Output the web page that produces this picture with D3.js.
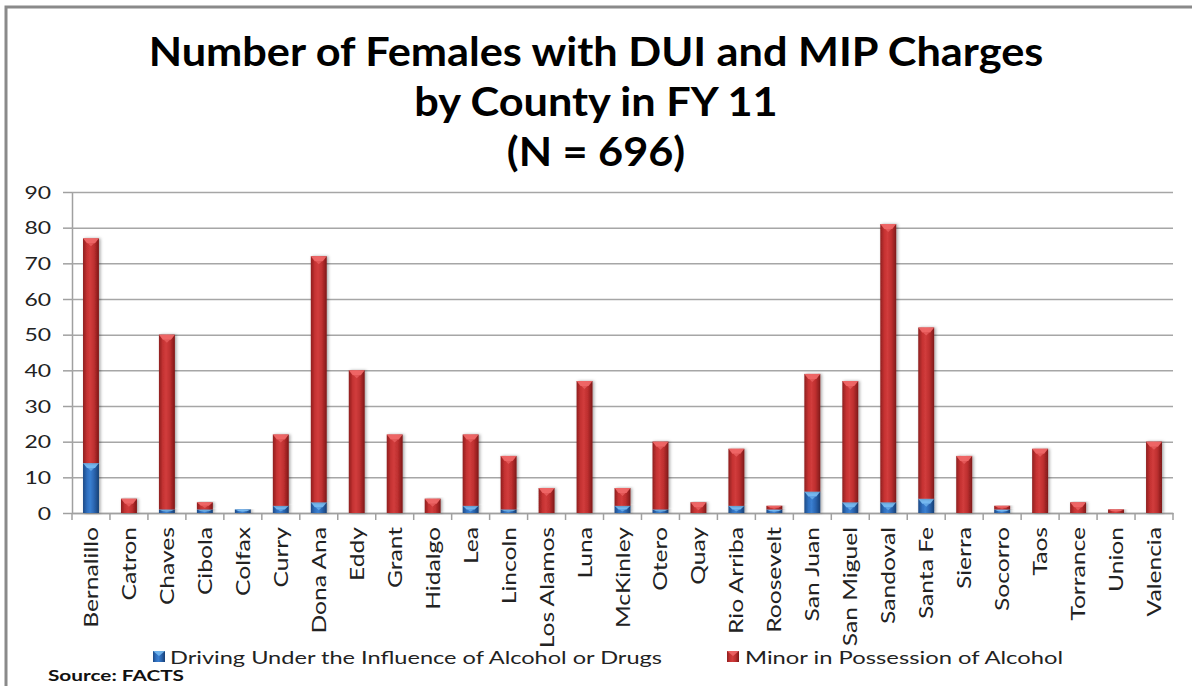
<!DOCTYPE html>
<html>
<head>
<meta charset="utf-8">
<script src="https://cdn.jsdelivr.net/npm/d3@7"></script>
<style>
  html, body { margin: 0; padding: 0; background: #fff; }
  svg { display: block; }
</style>
</head>
<body>
<svg id="chart" width="1192" height="686"></svg>
<script>
// ---- data ----
const counties = ["Bernalillo","Catron","Chaves","Cibola","Colfax","Curry","Dona Ana","Eddy","Grant","Hidalgo","Lea","Lincoln","Los Alamos","Luna","McKinley","Otero","Quay","Rio Arriba","Roosevelt","San Juan","San Miguel","Sandoval","Santa Fe","Sierra","Socorro","Taos","Torrance","Union","Valencia"];
const dui = [14,0,1,1,1,2,3,0,0,0,2,1,0,0,2,1,0,2,1,6,3,3,4,0,1,0,0,0,0];
const mip = [63,4,49,2,0,20,69,40,22,4,20,15,7,37,5,19,3,16,1,33,34,78,48,16,1,18,3,1,20];
const seriesNames = ["Driving Under the Influence of Alcohol or Drugs", "Minor in Possession of Alcohol"];
const yTicks = [0,10,20,30,40,50,60,70,80,90];
const titleLines = ["Number of Females with DUI and MIP Charges", "by County in FY 11", "(N = 696)"];
const sourceText = "Source: FACTS";

(function () {
// ---- layout ----
const svg = d3.select("#chart");
const pLeft = 72, pRight = 1173, pTop = 192, pBottom = 513;

const x = d3.scaleBand().domain(counties).range([pLeft, pRight]).paddingInner(0.58).paddingOuter(0.29);
const y = d3.scaleLinear().domain([0, 90]).range([pBottom, pTop]);

// gradients
const defs = svg.append("defs");
function grad(id, stops) {
  const g = defs.append("linearGradient").attr("id", id).attr("x1", "0%").attr("x2", "100%").attr("y1", "0%").attr("y2", "0%");
  stops.forEach(s => g.append("stop").attr("offset", s[0]).attr("stop-color", s[1]));
}
grad("gRed", [["0%", "#8e1f1f"], ["25%", "#c53232"], ["45%", "#d13c3c"], ["70%", "#bd2f2f"], ["100%", "#7e1818"]]);
grad("gBlue", [["0%", "#1d4a86"], ["25%", "#2f6fbf"], ["45%", "#3a7fd0"], ["70%", "#2a65b0"], ["100%", "#173f74"]]);
const f = defs.append("filter").attr("id", "shadow").attr("x", "-30%").attr("y", "-10%").attr("width", "160%").attr("height", "120%");
f.append("feDropShadow").attr("dx", 1.5).attr("dy", 0).attr("stdDeviation", 1.6).attr("flood-color", "#000").attr("flood-opacity", 0.35);

// frame border
svg.append("path").attr("d", "M6,686 L6,7 L1192,7").attr("fill", "none").attr("stroke", "#8a8a8a").attr("stroke-width", 3);

// title
const titleG = svg.append("g");
const titleY = [66, 116, 166];
titleLines.forEach((t, i) => {
  titleG.append("text").attr("class", "title")
    .attr("x", 0).attr("y", 0)
    .attr("transform", `translate(596,${titleY[i]})`)
    .attr("text-anchor", "middle")
    .attr("font-family", "Lato, sans-serif").attr("font-weight", "bold").attr("font-size", 40)
    .attr("fill", "#000").text(t);
});
{
  const first = titleG.select("text").node();
  const w = first.getComputedTextLength();
  const k = 895 / w;
  titleG.selectAll("text").attr("transform", (d, i) => `translate(596,${titleY[i]}) scale(${k},1)`);
}

// gridlines + y ticks
const yAxis = d3.axisLeft(y).tickValues(yTicks).tickSize(9).tickSizeOuter(0);
const yg = svg.append("g").attr("transform", `translate(${pLeft},0)`).call(yAxis);
yg.select(".domain").attr("stroke", "#a0a0a0").attr("stroke-width", 1.5);
yg.selectAll(".tick line").attr("stroke", "#a0a0a0").attr("stroke-width", 1.5);
yg.selectAll(".tick").append("line").attr("x1", 0).attr("x2", pRight - pLeft).attr("stroke", "#a6a6a6").attr("stroke-width", 1.5);
yg.selectAll(".tick text")
  .attr("font-family", "Lato, sans-serif").attr("font-size", 17).attr("fill", "#222")
  .attr("x", 0).attr("dy", "0.36em")
  .attr("transform", "translate(-21,0) scale(1.35,1)")
  .attr("text-anchor", "end");

// x axis
const xAxis = d3.axisBottom(x).tickSize(0).tickSizeOuter(0);
const xg = svg.append("g").attr("transform", `translate(0,${pBottom})`).call(xAxis);
xg.select(".domain").attr("stroke", "#a0a0a0").attr("stroke-width", 1.5);
const bounds = counties.map(c => x(c) - x.step() * x.paddingInner() / 2).concat([pRight]);
xg.selectAll(".bnd").data(bounds).enter().append("line").attr("class", "bnd")
  .attr("x1", d => d).attr("x2", d => d).attr("y1", 0).attr("y2", 7)
  .attr("stroke", "#a0a0a0").attr("stroke-width", 1.5);
xg.selectAll(".tick text")
  .attr("font-family", "Lato, sans-serif").attr("font-size", 20).attr("fill", "#222")
  .attr("text-anchor", "end")
  .attr("x", 0).attr("y", 0).attr("dy", "0.35em")
  .attr("transform", "translate(0,14) rotate(-90) scale(1.23,1)");

// bars
const data = counties.map((c, i) => ({ c, dui: dui[i], mip: mip[i] }));
const stack = d3.stack().keys(["dui", "mip"])(data);
const fills = ["url(#gBlue)", "url(#gRed)"];
const bevel = ["#7cc0f5", "#f26a6a"];
const bw = x.bandwidth();
stack.forEach((layer, li) => {
  const g = svg.append("g");
  layer.forEach(seg => {
    const v0 = seg[0], v1 = seg[1];
    if (v1 - v0 <= 0) return;
    const x0 = x(seg.data.c);
    const yt = y(v1), yb = y(v0);
    const h = yb - yt;
    g.append("rect").attr("x", x0).attr("y", yt).attr("width", bw).attr("height", h)
      .attr("fill", fills[li]).attr("filter", "url(#shadow)");
    const bh = Math.min(5, h * 0.5);
    g.append("path")
      .attr("d", `M${x0},${yt} L${x0 + bw},${yt} L${x0 + bw * 0.75},${yt + bh} L${x0 + bw * 0.25},${yt + bh} Z`)
      .attr("fill", bevel[li]).attr("opacity", 0.9);
    g.append("path")
      .attr("d", `M${x0 + bw * 0.3},${yt + bh} L${x0 + bw * 0.7},${yt + bh} L${x0 + bw * 0.5},${yt + Math.min(8, h * 0.8)} Z`)
      .attr("fill", bevel[li]).attr("opacity", 0.6);
  });
});

// legend
const legend = [
  { name: seriesNames[0], fill: "url(#gBlue)", bev: bevel[0], mx: 153, tx: 170, tw: 492 },
  { name: seriesNames[1], fill: "url(#gRed)", bev: bevel[1], mx: 727, tx: 745, tw: 318 }
];
legend.forEach(l => {
  svg.append("rect").attr("x", l.mx).attr("y", 651).attr("width", 12).attr("height", 11).attr("fill", l.fill);
  svg.append("path").attr("d", `M${l.mx},651 L${l.mx + 12},651 L${l.mx + 6},656 Z`).attr("fill", l.bev).attr("opacity", 0.8);
  svg.append("text").attr("x", l.tx).attr("y", 664)
    .attr("font-family", "Lato, sans-serif").attr("font-size", 18).attr("fill", "#222")
    .attr("textLength", l.tw).attr("lengthAdjust", "spacingAndGlyphs")
    .text(l.name);
});

// source
svg.append("text").attr("x", 48).attr("y", 681)
  .attr("font-family", "Lato, sans-serif").attr("font-weight", "bold").attr("font-size", 16).attr("fill", "#111")
  .attr("textLength", 136).attr("lengthAdjust", "spacingAndGlyphs")
  .text(sourceText);
})();
</script>
</body>
</html>
